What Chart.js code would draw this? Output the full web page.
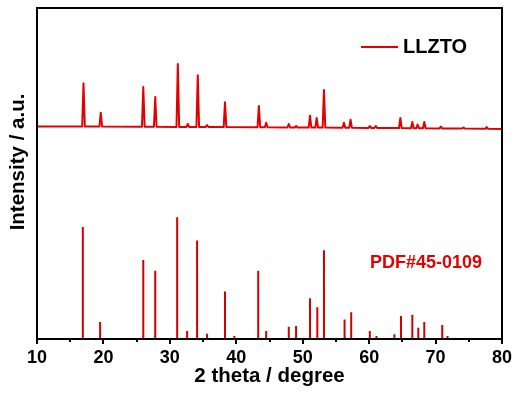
<!DOCTYPE html>
<html>
<head>
<meta charset="utf-8">
<title>LLZTO XRD</title>
<script src="https://cdn.jsdelivr.net/npm/chart.js@4/dist/chart.umd.min.js"></script>
<style>
  html, body { margin: 0; padding: 0; background: #fff; }
  #wrap { width: 521px; height: 398px; }
</style>
</head>
<body>
<div id="wrap"><canvas id="xrd" width="521" height="398"></canvas></div>
<script>
/* XRD pattern of LLZTO with the PDF#45-0109 reference sticks underneath. */

// measured scan (2 theta, intensity a.u. above the scan's own zero)
var scanAngle = [
  10.0, 16.8, 17.0, 17.2, 19.4, 19.6, 19.8, 25.8, 26.0, 26.2,
  27.6, 27.8, 28.0, 31.0, 31.2, 31.4, 32.5, 32.7, 32.9, 34.0,
  34.2, 34.4, 35.4, 35.6, 35.8, 38.1, 38.3, 38.5, 43.2, 43.4,
  43.6, 44.3, 44.5, 44.7, 47.7, 47.9, 48.1, 48.8, 49.0, 49.2,
  50.9, 51.1, 51.3, 51.9, 52.1, 52.3, 53.0, 53.2, 53.4, 56.0,
  56.2, 56.4, 57.0, 57.2, 57.4, 59.9, 60.1, 60.3, 60.8, 61.0,
  61.2, 64.5, 64.7, 64.9, 66.3, 66.5, 66.7, 67.1, 67.3, 67.5,
  68.1, 68.3, 68.5, 70.6, 70.8, 71.0, 74.0, 74.2, 74.4, 77.5,
  77.7, 77.9, 80.0
];
var scanCounts = [
  3.0, 3.0, 46.2, 3.0, 3.0, 16.8, 3.0, 2.8, 42.5, 2.8,
  2.8, 32.5, 2.8, 2.6, 65.5, 2.6, 2.6, 5.5, 2.6, 2.5,
  54.2, 2.5, 2.5, 4.5, 2.5, 2.4, 27.2, 2.4, 2.2, 23.5,
  2.2, 2.2, 6.8, 2.2, 2.0, 5.5, 2.0, 2.0, 3.5, 2.0,
  1.9, 13.8, 1.9, 1.9, 11.5, 1.9, 1.9, 39.5, 1.9, 1.8,
  6.8, 1.8, 1.8, 9.8, 1.8, 1.6, 3.5, 1.6, 1.6, 3.5,
  1.6, 1.4, 11.5, 1.4, 1.3, 7.5, 1.3, 1.3, 5.0, 1.3,
  1.3, 7.5, 1.3, 1.1, 3.0, 1.1, 0.9, 2.0, 0.9, 0.7,
  2.5, 0.7, 0.5
];

// PDF#45-0109 reference lines (2 theta, relative intensity)
var refAngle = [
  16.9, 19.5, 26.0, 27.8, 31.1, 32.6, 34.1, 35.6, 38.3, 39.7,
  43.3, 44.5, 47.9, 49.0, 51.1, 52.2, 53.2, 56.3, 57.3, 60.1,
  61.1, 63.8, 64.8, 66.5, 67.4, 68.3, 71.0, 71.8
];
var refIntensity = [
  92, 14, 65, 56, 100, 6.6, 81, 4.4, 39, 2.5,
  56, 6.6, 10, 10.7, 33.4, 26, 73, 16, 22, 6.6,
  2.5, 4, 19, 20, 9.3, 14, 11.5, 2.5
];

var xTicks = [10, 20, 30, 40, 50, 60, 70, 80];

var scanOffset = 209.5;   // lifts the scan above the reference sticks
var refScale = 1.217;     // relative intensity -> a.u.
var red = "#e30000";
var stickRed = "#d20000";

var scanData = scanAngle.map(function (a, i) {
  return { x: a, y: scanOffset + scanCounts[i] };
});

var stickData = [];
refAngle.forEach(function (a, i) {
  stickData.push({ x: a, y: 0 });
  stickData.push({ x: a, y: refIntensity[i] * refScale });
  stickData.push({ x: a, y: null });
});

var boldFont = "'Liberation Sans', Arial, sans-serif";

var framePlugin = {
  id: "xrdFrame",
  afterDraw: function (chart) {
    var ctx = chart.ctx;
    var area = chart.chartArea;
    var xs = chart.scales.x;
    ctx.save();
    ctx.strokeStyle = "#000";
    ctx.lineWidth = 2;
    ctx.strokeRect(area.left, area.top, area.right - area.left, area.bottom - area.top);

    // major and minor ticks, pointing out of the frame
    ctx.beginPath();
    for (var v = 10; v <= 80; v += 5) {
      var px = Math.round(xs.getPixelForValue(v));
      var len = v % 10 === 0 ? 5 : 3;
      ctx.moveTo(px, area.bottom);
      ctx.lineTo(px, area.bottom + len);
    }
    ctx.stroke();

    // y title
    ctx.fillStyle = "#000";
    ctx.font = "bold 20.5px " + boldFont;
    ctx.textAlign = "center";
    ctx.textBaseline = "middle";
    ctx.translate(18, 162);
    ctx.rotate(-Math.PI / 2);
    ctx.fillText("Intensity / a.u.", 0, 0);
    ctx.setTransform(1, 0, 0, 1, 0, 0);

    // legend
    ctx.strokeStyle = red;
    ctx.lineWidth = 2;
    ctx.beginPath();
    ctx.moveTo(361, 47);
    ctx.lineTo(398, 47);
    ctx.stroke();
    ctx.fillStyle = "#000";
    ctx.font = "bold 20px " + boldFont;
    ctx.textAlign = "left";
    ctx.fillText("LLZTO", 403, 47);

    // reference card label
    ctx.fillStyle = red;
    ctx.font = "bold 18px " + boldFont;
    ctx.fillText("PDF#45-0109", 370, 263);
    ctx.restore();
  }
};

new Chart(document.getElementById("xrd"), {
  type: "scatter",
  data: {
    datasets: [
      {
        label: "LLZTO",
        data: scanData,
        showLine: true,
        borderColor: red,
        backgroundColor: red,
        borderWidth: 2,
        borderJoinStyle: "round",
        pointRadius: 0,
        tension: 0
      },
      {
        label: "PDF#45-0109",
        data: stickData,
        showLine: true,
        spanGaps: false,
        borderColor: stickRed,
        backgroundColor: stickRed,
        borderWidth: 2,
        borderCapStyle: "butt",
        pointRadius: 0,
        tension: 0
      }
    ]
  },
  options: {
    responsive: false,
    animation: false,
    devicePixelRatio: 1,
    layout: { padding: { top: 8, right: 19, left: 0, bottom: 0 } },
    plugins: {
      legend: { display: false },
      tooltip: { enabled: false }
    },
    scales: {
      x: {
        type: "linear",
        min: 10,
        max: 80,
        afterFit: function (s) { s.height = 59; },
        afterBuildTicks: function (s) {
          s.ticks = xTicks.map(function (v) { return { value: v }; });
        },
        grid: { display: false, drawTicks: false },
        border: { display: false },
        ticks: {
          padding: 8,
          color: "#000",
          maxRotation: 0,
          font: { family: boldFont, size: 18, weight: "bold" }
        },
        title: {
          display: true,
          text: "2 theta / degree",
          color: "#000",
          padding: { top: 0, bottom: 9 },
          font: { family: boldFont, size: 20.5, weight: "bold" }
        }
      },
      y: {
        type: "linear",
        min: 0,
        max: 331,
        afterFit: function (s) { s.width = 37; },
        grid: { display: false, drawTicks: false },
        border: { display: false },
        ticks: { display: false }
      }
    }
  },
  plugins: [framePlugin]
});
</script>
</body>
</html>
